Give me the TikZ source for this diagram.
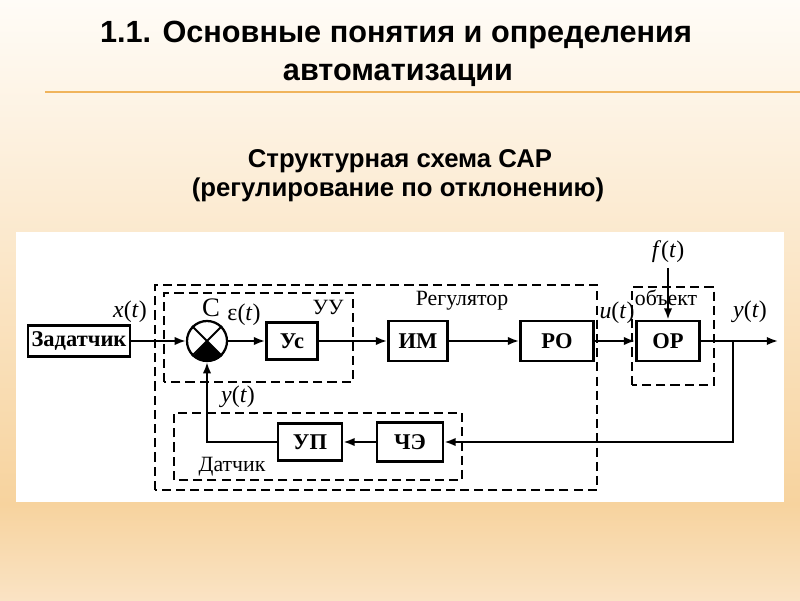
\documentclass[tikz,border=0pt]{standalone}
\usepackage{fontspec}
\setmainfont{Liberation Serif}
\newfontfamily\titlefont{Liberation Sans}
\usetikzlibrary{arrows.meta}
\definecolor{fonverh}{HTML}{FFFCF7}
\definecolor{fonser}{HTML}{F7D39E}
\definecolor{fonniz}{HTML}{FAE3C4}
\definecolor{liniya}{HTML}{F0B45C}
\pgfdeclareverticalshading{fon}{100bp}{color(0bp)=(fonniz); color(25bp)=(fonniz); color(33bp)=(fonser); color(75bp)=(fonverh); color(100bp)=(fonverh)}
\def\px{0.7113pt}

\begin{document}
\begin{tikzpicture}[x=0.025cm, y=0.025cm,
  zag/.style={font=\titlefont\bfseries\fontsize{21.8}{26}\selectfont},
  podzag/.style={font=\titlefont\bfseries\fontsize{18.3}{22}\selectfont},
  blok/.style={draw, line width=2pt, inner sep=0pt, font=\bfseries\fontsize{16}{19}\selectfont},
  summa/.style={circle, draw, line width=1.6pt, minimum size=40*\px, inner sep=0pt},
  metka/.style={font=\fontsize{17}{20}\selectfont},
  podpis/.style={font=\fontsize{15.5}{18}\selectfont},
  ramka/.style={line width=1.1pt, dash pattern=on 6.5pt off 3.6pt},
  svyaz/.style={line width=1.4pt, -{Latex[length=8pt, width=6pt]}}]
  % Структурная схема САР
  \useasboundingbox (0,0) rectangle (800,600);
  \shade[shading=fon] (0,0) rectangle (800,600);
  \draw[liniya, line width=1.4pt] (45,508) -- (800,508);

  \node[zag] (zag1) at (396,565) {1.1. Основные понятия и определения};
  \node[zag] (zag2) at (398,525) {автоматизации};
  \node[podzag] (pz1) at (400,439) {Структурная схема САР};
  \node[podzag] (pz2) at (398,410) {(регулирование по отклонению)};

  \fill[white] (16,98) rectangle (784,368);

  % рамки
  \draw[ramka] (155,110) rectangle (597,315);
  \draw[ramka] (164,218) rectangle (353,307);
  \draw[ramka] (174,120) rectangle (462,187);
  \draw[ramka] (632,215) rectangle (714,313);

  % блоки
  \node[blok, minimum width=102*\px, minimum height=31*\px] (zad) at (79,259) {Задатчик};
  \node[summa] (sum) at (207,259) {};
  \node[blok, minimum width=51*\px, minimum height=37*\px] (us) at (292,259) {Ус};
  \node[blok, minimum width=59*\px, minimum height=40*\px] (im) at (418,259) {ИМ};
  \node[blok, minimum width=73*\px, minimum height=40*\px] (ro) at (557,259) {РО};
  \node[blok, minimum width=63*\px, minimum height=40*\px] (ob) at (668,259) {ОР};
  \node[blok, minimum width=66*\px, minimum height=39*\px] (che) at (410,158) {ЧЭ};
  \node[blok, minimum width=64*\px, minimum height=37*\px] (up) at (310,158) {УП};

  \draw[line width=1.4pt] (sum.45) -- (sum.-135) (sum.135) -- (sum.-45);
  \fill (sum.center) -- (sum.-45) arc[start angle=-45, end angle=-135, radius=20] -- cycle;

  % надписи
  \node[metka] (x) at (130,288) {\textit{x}(\textit{t})};
  \node[metka, font=\fontsize{19}{22}\selectfont] (c) at (211,292) {С};
  \node[metka] (eps) at (244,285) {ε(\textit{t})};
  \node[podpis] (uu) at (328,293) {УУ};
  \node[metka] (yos) at (238,203) {\textit{y}(\textit{t})};
  \node[podpis] (dat) at (232,133) {Датчик};
  \node[podpis] (reg) at (462,299) {Регулятор};
  \node[metka] (u) at (617,287) {\textit{u}(\textit{t})};
  \node[podpis] (obk) at (666,302) {объект};
  \node[metka] (y) at (750,288) {\textit{y}(\textit{t})};
  \node[metka] (f) at (668,348) {\textit{f}(\textit{t})};

  % связи
  \coordinate (uzel) at (733,259);
  \coordinate (vyh) at (778,259);
  \draw[svyaz] (zad) -- (sum);
  \draw[svyaz] (sum) -- (us);
  \draw[svyaz] (us) -- (im);
  \draw[svyaz] (im) -- (ro);
  \draw[svyaz] (ro) -- (ob);
  \draw[svyaz] (ob) -- (vyh);
  \draw[svyaz] (uzel) |- (che);
  \draw[svyaz] (che) -- (up);
  \draw[svyaz] (up) -| (sum);
  \draw[svyaz] (f) -- (ob);
\end{tikzpicture}
\end{document}
